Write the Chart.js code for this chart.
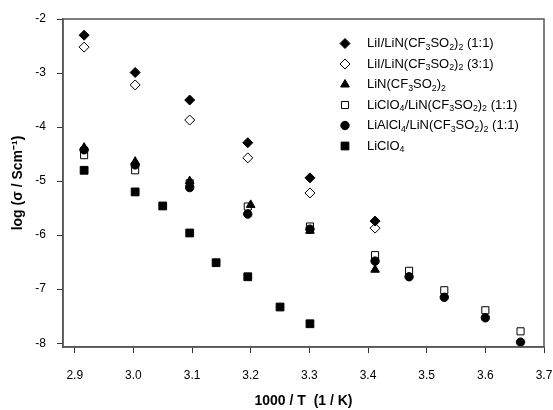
<!DOCTYPE html>
<html>
<head>
<meta charset="utf-8">
<script src="https://cdn.jsdelivr.net/npm/chart.js@4/dist/chart.umd.min.js"></script>
<style>
html,body{margin:0;padding:0;background:#fff;}
#wrap{width:553px;height:410px;position:relative;}
</style>
</head>
<body>
<div id="wrap"><canvas id="c" width="553" height="410"></canvas></div>
<script>
// ---- data ----
const seriesLabels = [
  "LiI/LiN(CF₃SO₂)₂ (1:1)",
  "LiI/LiN(CF₃SO₂)₂ (3:1)",
  "LiN(CF₃SO₂)₂",
  "LiClO₄/LiN(CF₃SO₂)₂ (1:1)",
  "LiAlCl₄/LiN(CF₃SO₂)₂ (1:1)",
  "LiClO₄"
];
const xLiI11 = [2.916, 3.003, 3.096, 3.195, 3.301, 3.412];
const yLiI11 = [-2.30, -2.99, -3.50, -4.29, -4.94, -5.74];
const xLiI31 = [2.916, 3.003, 3.096, 3.195, 3.301, 3.412];
const yLiI31 = [-2.52, -3.22, -3.87, -4.57, -5.22, -5.87];
const xLiN = [2.916, 3.003, 3.096, 3.200, 3.301, 3.412];
const yLiN = [-4.38, -4.64, -5.00, -5.44, -5.92, -6.64];
const xLiClO4LiN = [2.916, 3.003, 3.096, 3.195, 3.301, 3.412, 3.470, 3.530, 3.600, 3.660];
const yLiClO4LiN = [-4.52, -4.80, -5.04, -5.47, -5.84, -6.37, -6.66, -7.02, -7.39, -7.78];
const xLiAlCl4 = [2.916, 3.003, 3.096, 3.195, 3.301, 3.412, 3.470, 3.530, 3.600, 3.660];
const yLiAlCl4 = [-4.42, -4.70, -5.12, -5.61, -5.89, -6.48, -6.77, -7.15, -7.53, -7.98];
const xLiClO4 = [2.916, 3.003, 3.050, 3.096, 3.141, 3.195, 3.250, 3.301];
const yLiClO4 = [-4.80, -5.20, -5.46, -5.96, -6.51, -6.77, -7.33, -7.64];
const xTicks = [2.9, 3.0, 3.1, 3.2, 3.3, 3.4, 3.5, 3.6, 3.7];
const yTicks = [-2, -3, -4, -5, -6, -7, -8];

const zip = (xs, ys) => xs.map((x, i) => ({x: x, y: ys[i]}));

const styles = [
  {pointStyle: 'rectRot', r: 5, fill: '#000', order: 1},
  {pointStyle: 'rectRot', r: 5, fill: '#fff', order: 1},
  {pointStyle: 'triangle', r: 5, fill: '#000', order: 3},
  {pointStyle: 'rect', r: 5, fill: '#fff', order: 4},
  {pointStyle: 'circle', r: 4.2, fill: '#000', order: 2},
  {pointStyle: 'rect', r: 5.5, fill: '#000', order: 1}
];
const dataArr = [
  zip(xLiI11, yLiI11), zip(xLiI31, yLiI31), zip(xLiN, yLiN),
  zip(xLiClO4LiN, yLiClO4LiN), zip(xLiAlCl4, yLiAlCl4), zip(xLiClO4, yLiClO4)
];

const datasets = dataArr.map((d, i) => ({
  label: seriesLabels[i],
  data: d,
  showLine: false,
  pointStyle: styles[i].pointStyle,
  pointRadius: styles[i].r,
  pointHoverRadius: styles[i].r,
  pointBackgroundColor: styles[i].fill,
  pointBorderColor: '#000',
  pointBorderWidth: 1,
  order: styles[i].order
}));

const FONT = '"Liberation Sans", Arial, sans-serif';
const SUBS = {'₀':'0','₁':'1','₂':'2','₃':'3','₄':'4','₅':'5','₆':'6','₇':'7','₈':'8','₉':'9'};
function drawRich(ctx, text, x, y, size) {
  let cx = x;
  for (const ch of text) {
    if (SUBS[ch]) {
      ctx.font = (size * 0.68) + 'px ' + FONT;
      ctx.fillText(SUBS[ch], cx, y + size * 0.3);
      cx += ctx.measureText(SUBS[ch]).width;
    } else {
      ctx.font = size + 'px ' + FONT;
      ctx.fillText(ch, cx, y);
      cx += ctx.measureText(ch).width;
    }
  }
}

const framePlugin = {
  id: 'frame',
  afterDraw(chart) {
    const {ctx, chartArea: a} = chart;
    ctx.save();
    ctx.strokeStyle = '#555';
    ctx.lineWidth = 1.5;
    ctx.strokeRect(a.left, a.top, a.right - a.left, a.bottom - a.top);
    ctx.restore();
  }
};

const legendPlugin = {
  id: 'richLegend',
  afterDraw(chart) {
    const ctx = chart.ctx;
    ctx.save();
    const mx = 345, tx = 367, y0 = 43.5, dy = 20.5;
    chart.data.datasets.forEach((ds, i) => {
      const y = y0 + i * dy;
      ctx.fillStyle = ds.pointBackgroundColor;
      ctx.strokeStyle = '#000';
      ctx.lineWidth = 1;
      Chart.helpers.drawPoint(ctx, {pointStyle: ds.pointStyle, radius: ds.pointRadius, borderWidth: 1}, mx, y);
      ctx.fillStyle = '#000';
      ctx.textBaseline = 'middle';
      ctx.textAlign = 'left';
      drawRich(ctx, ds.label, tx, y, 13);
    });
    ctx.restore();
  }
};

new Chart(document.getElementById('c'), {
  type: 'scatter',
  data: {datasets: datasets},
  plugins: [framePlugin, legendPlugin],
  options: {
    responsive: false,
    animation: false,
    events: [],
    layout: {padding: {left: 0, right: 9, top: 19, bottom: 0}},
    plugins: {legend: {display: false}, tooltip: {enabled: false}},
    scales: {
      x: {
        type: 'linear',
        min: 2.88, max: 3.7,
        afterFit(s) { s.height = 63; s.paddingLeft = 0; s.paddingRight = 0; },
        afterBuildTicks(s) { s.ticks = xTicks.map(v => ({value: v})); },
        ticks: {
          callback: v => v.toFixed(1),
          color: '#000',
          font: {family: FONT, size: 12},
          padding: 15,
          maxRotation: 0,
          autoSkip: false
        },
        grid: {drawOnChartArea: false, drawTicks: true, tickLength: 6, tickColor: '#333'},
        border: {color: '#555', width: 1.5},
        title: {
          display: true,
          text: '1000 / T  (1 / K)',
          color: '#000',
          font: {family: FONT, size: 14, weight: 'bold'},
          padding: {top: 4, bottom: 0}
        }
      },
      y: {
        type: 'linear',
        min: -8.07, max: -2,
        afterFit(s) { s.width = 63; s.paddingTop = 0; s.paddingBottom = 0; },
        afterBuildTicks(s) { s.ticks = yTicks.map(v => ({value: v})); },
        ticks: {
          callback: v => String(v),
          color: '#000',
          font: {family: FONT, size: 12},
          padding: 11,
          autoSkip: false
        },
        grid: {drawOnChartArea: false, drawTicks: true, tickLength: 6, tickColor: '#333'},
        border: {color: '#555', width: 1.5},
        title: {
          display: true,
          text: 'log (σ / Scm⁻¹)',
          color: '#000',
          font: {family: FONT, size: 14, weight: 'bold'},
          padding: {top: 10, bottom: 0}
        }
      }
    }
  }
});
</script>
</body>
</html>
